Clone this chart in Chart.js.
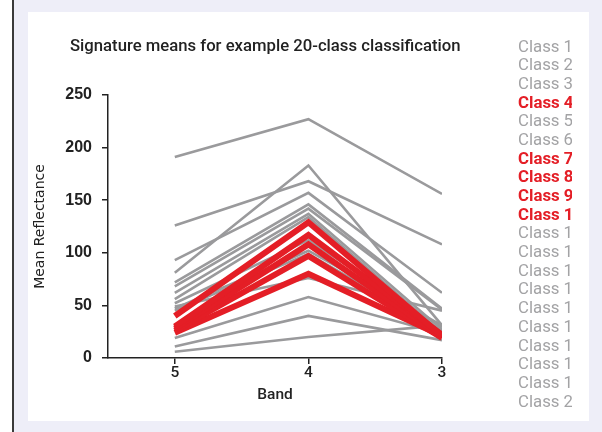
<!DOCTYPE html>
<html>
<head>
<meta charset="utf-8">
<script src="https://cdn.jsdelivr.net/npm/chart.js@4.4.1/dist/chart.umd.min.js"></script>
<style>
  html, body { margin: 0; padding: 0; background: #fff; }
  #page { position: relative; width: 602px; height: 432px; overflow: hidden; }
  #rule { position: absolute; left: 12px; top: 0; width: 2px; height: 432px; background: #3a3a3a; }
  #back { position: absolute; left: 14px; top: 0; width: 588px; height: 432px; background: #eeeef8; }
  #panel { position: absolute; left: 28px; top: 12px; width: 561px; height: 409px; background: #fff; }
  #chart { position: absolute; left: 0; top: 0; }
  #title { position: absolute; left: 70px; top: 36px; font: 500 16.7px Roboto, sans-serif; color: #222; white-space: nowrap; }
  #legend { position: absolute; left: 518px; top: 35.5px; }
  #legend div { height: 18.7px; line-height: 18.7px; font: 16.8px Roboto, sans-serif; white-space: nowrap; overflow: hidden; }
</style>
</head>
<body>
<div id="page">
  <div id="rule"></div>
  <div id="back"></div>
  <div id="panel"></div>
  <canvas id="chart" width="602" height="432"></canvas>
  <div id="title">Signature means for example 20-class classification</div>
  <div id="legend"></div>
</div>
<script>
// Bands in plotted order (left to right)
const bands = [5, 4, 3];
const yTicks = [0, 50, 100, 150, 200, 250];

const classNames = ["Class 1", "Class 2", "Class 3", "Class 4", "Class 5", "Class 6", "Class 7",
  "Class 8", "Class 9", "Class 10", "Class 11", "Class 12", "Class 13", "Class 14", "Class 15",
  "Class 16", "Class 17", "Class 18", "Class 19", "Class 20"];

// mean reflectance per class at bands 5, 4, 3
const class1 = [191, 227, 156];
const class2 = [126, 168, 108];
const class3 = [81, 183, 31];
const class4 = [40, 129, 21];
const class5 = [93, 157, 62];
const class6 = [72, 146, 47];
const class7 = [30, 117, 22];
const class8 = [28, 108, 20];
const class9 = [26, 97, 19];
const class10 = [24, 80, 21];
const class11 = [68, 142, 46];
const class12 = [62, 137, 27];
const class13 = [56, 134, 24];
const class14 = [52, 112, 29];
const class15 = [47, 102, 31];
const class16 = [45, 99, 26];
const class17 = [49, 76, 45];
const class18 = [19, 58, 23];
const class19 = [11, 40, 17];
const class20 = [6, 20, 31];

const allClasses = [class1, class2, class3, class4, class5, class6, class7, class8, class9, class10,
  class11, class12, class13, class14, class15, class16, class17, class18, class19, class20];

// highlighted classes (drawn red)
const highlighted = ["Class 4", "Class 7", "Class 8", "Class 9", "Class 10"];

const GREY = "#9a9a9c";
const RED = "#e41e26";
const INK = "#222";

const datasets = allClasses.map((vals, i) => {
  const hot = highlighted.includes(classNames[i]);
  return {
    label: classNames[i],
    data: bands.map((b, j) => ({ x: b, y: vals[j] })),
    borderColor: hot ? RED : GREY,
    borderWidth: hot ? 6 : 2.6,
    pointRadius: 0,
    tension: 0,
    fill: false
  };
});

new Chart(document.getElementById("chart"), {
  type: "line",
  data: { datasets },
  options: {
    responsive: false,
    animation: false,
    layout: { padding: { left: 28, top: 95, right: 160, bottom: 11 } },
    plugins: { legend: { display: false }, tooltip: { enabled: false } },
    scales: {
      x: {
        type: "linear",
        reverse: true,
        min: 3,
        max: 5.5,
        afterBuildTicks: s => { s.ticks = bands.map(v => ({ value: v })); },
        afterFit: s => { s.height = 63; },
        ticks: { color: INK, padding: 0, font: { family: "Roboto", size: 15.5, weight: "500" } },
        grid: { drawOnChartArea: false, tickLength: 6, color: INK, lineWidth: 1.5 },
        border: { color: INK, width: 1.5 },
        title: { display: true, text: "Band", color: INK, font: { family: "Roboto", size: 15.5, weight: "500" }, padding: { top: 0, bottom: 17 } }
      },
      y: {
        min: 0,
        max: 250,
        afterBuildTicks: s => { s.ticks = yTicks.map(v => ({ value: v })); },
        afterFit: s => { s.width = 80; },
        ticks: { color: INK, padding: 10, font: { family: "'Liberation Sans', Arial, sans-serif", size: 16, weight: "bold" } },
        grid: { drawOnChartArea: false, tickLength: 6, color: INK, lineWidth: 1.5 },
        border: { color: INK, width: 1.5 },
        title: { display: true, text: "Mean Reflectance", color: INK, font: { family: "DejaVu Sans", size: 14 }, padding: { top: 4, bottom: 0 } }
      }
    }
  }
});

// legend: names clipped to the width of "Class 1", as in the original figure
const legend = document.getElementById("legend");
const mctx = document.createElement("canvas").getContext("2d");
classNames.forEach(name => {
  const hot = highlighted.includes(name);
  const el = document.createElement("div");
  el.textContent = name;
  el.style.color = hot ? RED : "#a3a3a5";
  el.style.fontWeight = hot ? "bold" : "normal";
  mctx.font = (hot ? "bold " : "") + "16.8px Roboto";
  el.style.width = (Math.floor(mctx.measureText("Class 1").width) - 1) + "px";
  legend.appendChild(el);
});
</script>
</body>
</html>
